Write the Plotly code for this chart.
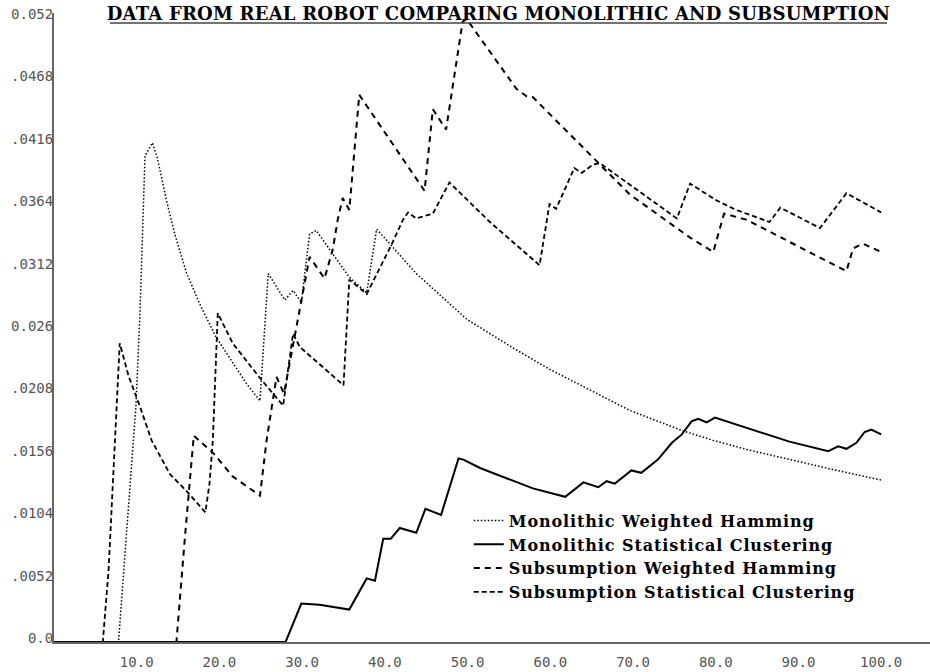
import plotly.graph_objects as go

# ---------------- data ----------------
mwh_x = [0, 7.8, 8.6, 9.6, 9.9, 10.4, 10.8, 11.0, 11.9, 12.5, 13.6, 14.6, 16.0, 17.6, 19.6,
         21.7, 23.3, 24.9, 25.9, 27.9, 28.9, 29.9, 30.9, 31.7, 33.7, 35.7, 37.8, 39.0, 39.8,
         43.8, 49.9, 55.5, 60.0, 64.8, 69.6, 76.0, 79.7, 84.0, 88.9, 94.0, 100.0]
mwh_y = [0, 0, 0.0075, 0.0168, 0.0196, 0.0275, 0.0351, 0.0405, 0.0416, 0.0403, 0.0368, 0.0340, 0.0308, 0.0282, 0.0254,
         0.0232, 0.0215, 0.0201, 0.0307, 0.0285, 0.0293, 0.0283, 0.0340, 0.0343, 0.0324, 0.0304, 0.0291, 0.0344, 0.0338,
         0.0307, 0.0269, 0.0245, 0.0227, 0.0210, 0.0193, 0.0176, 0.0168, 0.0160, 0.0152, 0.0144, 0.0135]

msc_x = [0, 28.0, 29.9, 32.1, 35.7, 37.8, 38.8, 39.8, 40.7, 41.8, 43.8, 44.9, 46.8, 48.9, 49.5,
         51.5, 57.9, 61.8, 64.0, 65.8, 66.8, 67.8, 69.8, 71.0, 73.0, 74.7, 75.9, 77.1, 77.9,
         78.9, 79.9, 82.1, 85.3, 88.9, 93.6, 94.8, 95.8, 97.0, 98.0, 98.8, 100.0]
msc_y = [0, 0, 0.0032, 0.0031, 0.0027, 0.0053, 0.0051, 0.0086, 0.0086, 0.0095, 0.0091, 0.0111, 0.0106, 0.0153, 0.0152,
         0.0145, 0.0128, 0.0121, 0.0133, 0.0129, 0.0134, 0.0132, 0.0143, 0.0141, 0.0152, 0.0166, 0.0173, 0.0184, 0.0186,
         0.0183, 0.0187, 0.0182, 0.0175, 0.0167, 0.0159, 0.0163, 0.0161, 0.0166, 0.0175, 0.0177, 0.0173]

swh_x = [0, 14.8, 15.8, 16.9, 19.3, 21.6, 24.9, 25.7, 26.9, 27.8, 30.9, 32.7, 33.7, 34.3, 34.9,
         35.7, 36.9, 44.8, 45.8, 47.4, 49.4, 49.9, 55.9, 57.1, 57.9, 65.2, 69.6, 76.9, 79.7,
         81.0, 83.7, 95.8, 96.6, 97.8, 100.0]
swh_y = [0, 0, 0.0085, 0.0172, 0.0157, 0.0138, 0.0122, 0.0168, 0.0221, 0.0207, 0.0321, 0.0303, 0.0327, 0.0352, 0.0370,
         0.0360, 0.0456, 0.0376, 0.0444, 0.0427, 0.0517, 0.0519, 0.0461, 0.0455, 0.0454, 0.0404, 0.0373, 0.0337, 0.0325,
         0.0357, 0.0352, 0.0309, 0.0328, 0.0332, 0.0325]

ssc_x = [0, 5.9, 6.6, 7.3, 7.95, 9.0, 10.4, 11.8, 14.0, 16.0, 18.0, 18.3, 18.8, 19.2, 19.8,
         21.6, 24.9, 27.7, 28.9, 29.7, 35.0, 35.7, 37.8, 40.8, 42.2, 42.8, 43.8, 45.8, 47.8,
         52.7, 58.7, 59.9, 60.7, 62.9, 63.8, 65.2, 66.0, 75.3, 76.9, 80.1, 82.5, 86.5, 87.8,
         92.6, 95.8, 100.0]
ssc_y = [0, 0, 0.0060, 0.0154, 0.0249, 0.0222, 0.0196, 0.0168, 0.0140, 0.0126, 0.0111, 0.0108, 0.0132, 0.0168, 0.0274,
         0.0249, 0.0220, 0.0197, 0.0257, 0.0246, 0.0214, 0.0302, 0.0290, 0.0331, 0.0352, 0.0358, 0.0353, 0.0357, 0.0383,
         0.0350, 0.0314, 0.0365, 0.0361, 0.0395, 0.0391, 0.0398, 0.0399, 0.0353, 0.0382, 0.0368, 0.0360, 0.0350, 0.0362,
         0.0345, 0.0374, 0.0358]

series_names = ["Monolithic Weighted Hamming", "Monolithic Statistical Clustering",
                "Subsumption Weighted Hamming", "Subsumption Statistical Clustering"]

x_ticks = [10, 20, 30, 40, 50, 60, 70, 80, 90, 100]
x_tick_labels = ["10.0", "20.0", "30.0", "40.0", "50.0", "60.0", "70.0", "80.0", "90.0", "100.0"]
y_ticks = [0, 0.0052, 0.0104, 0.0156, 0.0208, 0.026, 0.0312, 0.0364, 0.0416, 0.0468, 0.052]
y_tick_labels = ["0.0", ".0052", ".0104", ".0156", ".0208", "0.026", ".0312", ".0364", ".0416", ".0468", "0.052"]

title_text = "DATA FROM REAL ROBOT COMPARING MONOLITHIC AND SUBSUMPTION"


def legend_label(s):
    return "<span style='letter-spacing:0.9px'><b>" + s + "</b></span>"


# ---------------- figure ----------------
fig = go.Figure()
fig.add_trace(go.Scatter(x=mwh_x, y=mwh_y, mode="lines", name=legend_label(series_names[0]),
                         line=dict(color="black", width=1.5, dash="1.5px,2px")))
fig.add_trace(go.Scatter(x=msc_x, y=msc_y, mode="lines", name=legend_label(series_names[1]),
                         line=dict(color="black", width=2)))
fig.add_trace(go.Scatter(x=swh_x, y=swh_y, mode="lines", name=legend_label(series_names[2]),
                         line=dict(color="black", width=2, dash="6px,5px")))
fig.add_trace(go.Scatter(x=ssc_x, y=ssc_y, mode="lines", name=legend_label(series_names[3]),
                         line=dict(color="black", width=1.8, dash="5px,3px")))

tick_font = dict(family="DejaVu Sans Mono", size=14, color="#555555")

fig.update_layout(
    width=930, height=672,
    margin=dict(l=54, r=0, t=13, b=30, autoexpand=False),
    plot_bgcolor="white", paper_bgcolor="white",
    title=dict(text="<span style='letter-spacing:0.2px'><b>" + title_text + "</b></span>",
               x=0.536, xref="container", xanchor="center",
               y=1 - 14 / 672, yref="container", yanchor="middle",
               font=dict(family="DejaVu Serif", size=18, color="black")),
    showlegend=True,
    legend=dict(x=0.4735, y=0.22, xanchor="left", yanchor="top",
                font=dict(family="DejaVu Serif", size=16, color="black"),
                bgcolor="rgba(0,0,0,0)", borderwidth=0, itemwidth=30, tracegroupgap=0),
    xaxis=dict(range=[0, 105.9], tickvals=x_ticks, ticktext=x_tick_labels, showgrid=False,
               zeroline=False, showline=True, linecolor="#666666", linewidth=2, ticks="",
               tickfont=tick_font, ticklabelstandoff=6, automargin=False, fixedrange=True),
    yaxis=dict(range=[0, 0.05242], tickvals=y_ticks, ticktext=y_tick_labels, showgrid=False,
               zeroline=False, showline=True, linecolor="#666666", linewidth=2, ticks="",
               tickfont=tick_font, ticklabelstandoff=-4, ticklabelshift=-4, automargin=False,
               fixedrange=True),
    shapes=[dict(type="line", xref="paper", yref="paper", x0=(110 - 54) / 876, x1=(887 - 54) / 876,
                 y0=(642 - 23) / 629, y1=(642 - 23) / 629, line=dict(color="#444444", width=1.5))],
)

fig.write_html("out.html", config={"displayModeBar": False},
               post_script="document.body.style.margin='0px';")
